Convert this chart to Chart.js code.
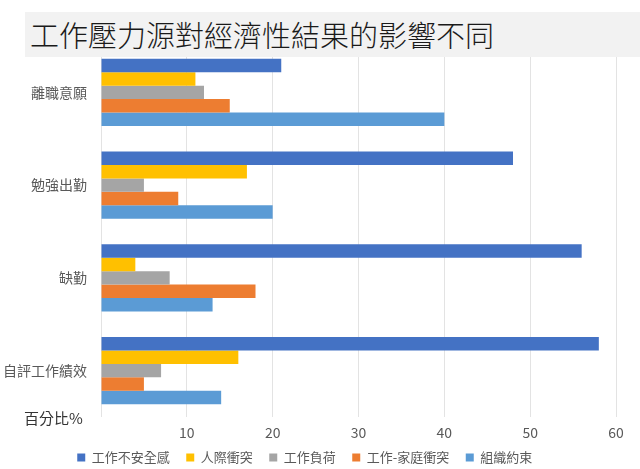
<!DOCTYPE html>
<html>
<head>
<meta charset="utf-8">
<script src="https://cdn.jsdelivr.net/npm/chart.js@4"></script>
<style>
    body { margin: 0; background: #fff; }
    #wrap { position: relative; width: 640px; height: 469px; overflow: hidden; }
    #chart { position: absolute; left: 0; top: 0; }
    #title {
        position: absolute; left: 25px; top: 12px; width: 615px; height: 45px;
        background: #f2f2f2; z-index: 2;
        font-family: "Noto Sans CJK TC Light", "Noto Sans CJK TC DemiLight", "Noto Sans CJK TC", sans-serif;
        font-size: 29px; color: #1a1a1a; font-weight: 300;
        line-height: 44px; padding-left: 5px; box-sizing: border-box;
    }
    #unit {
        position: absolute; left: 24px; top: 407px; z-index: 2;
        font-family: "Noto Sans CJK TC", sans-serif; font-size: 15px; color: #333;
    }
</style>
</head>
<body>
<div id="wrap">
    <canvas id="chart" width="640" height="469"></canvas>
    <div id="title">工作壓力源對經濟性結果的影響不同</div>
    <div id="unit">百分比%</div>
</div>
<script>
// categories (top to bottom)
const categories = ['離職意願', '勉強出勤', '缺勤', '自評工作績效'];

// series values (%)
const jobInsecurity = [21, 48, 56, 58];
const interpersonal = [11, 17, 4, 16];
const workload = [12, 5, 8, 7];
const workFamily = [15, 9, 18, 5];
const orgConstraints = [40, 20, 13, 14];

const seriesNames = ['工作不安全感', '人際衝突', '工作負荷', '工作-家庭衝突', '組織約束'];
const seriesColors = ['#4472C4', '#FFC000', '#A5A5A5', '#ED7D31', '#5B9BD5'];
const seriesData = [jobInsecurity, interpersonal, workload, workFamily, orgConstraints];

const fontFamily = '"Noto Sans CJK TC", sans-serif';

const datasets = seriesData.map((d, i) => ({
    label: seriesNames[i],
    data: d,
    backgroundColor: seriesColors[i],
    borderWidth: 0,
    categoryPercentage: 0.723,
    barPercentage: 1.0
}));

new Chart(document.getElementById('chart').getContext('2d'), {
    type: 'bar',
    data: { labels: categories, datasets: datasets },
    options: {
        indexAxis: 'y',
        responsive: false,
        animation: false,
        layout: { padding: { top: 46, right: 24, left: 0, bottom: 0 } },
        plugins: {
            legend: {
                position: 'bottom',
                maxHeight: 28,
                labels: {
                    boxWidth: 8, boxHeight: 8, padding: 10,
                    color: '#595959',
                    font: { family: fontFamily, size: 13 },
                    // a little extra room after each label, like the original legend
                    generateLabels: chart => Chart.defaults.plugins.legend.labels.generateLabels(chart)
                        .map(item => ({ ...item, text: item.text + '\u2002' }))
                }
            },
            tooltip: { enabled: false }
        },
        scales: {
            x: {
                min: 0, max: 60,
                ticks: {
                    stepSize: 10,
                    color: '#595959',
                    padding: 7,
                    font: { family: fontFamily, size: 14 },
                    callback: v => v === 0 ? '' : v
                },
                grid: { color: '#e3e3e3', drawTicks: false },
                border: { display: false },
                afterFit: scale => { scale.height = 24; }
            },
            y: {
                ticks: {
                    color: '#595959',
                    padding: 14,
                    font: { family: fontFamily, size: 14 }
                },
                grid: { display: false, drawTicks: false },
                border: { display: false },
                afterFit: scale => { scale.width = 101; }
            }
        }
    }
});
</script>
</body>
</html>
